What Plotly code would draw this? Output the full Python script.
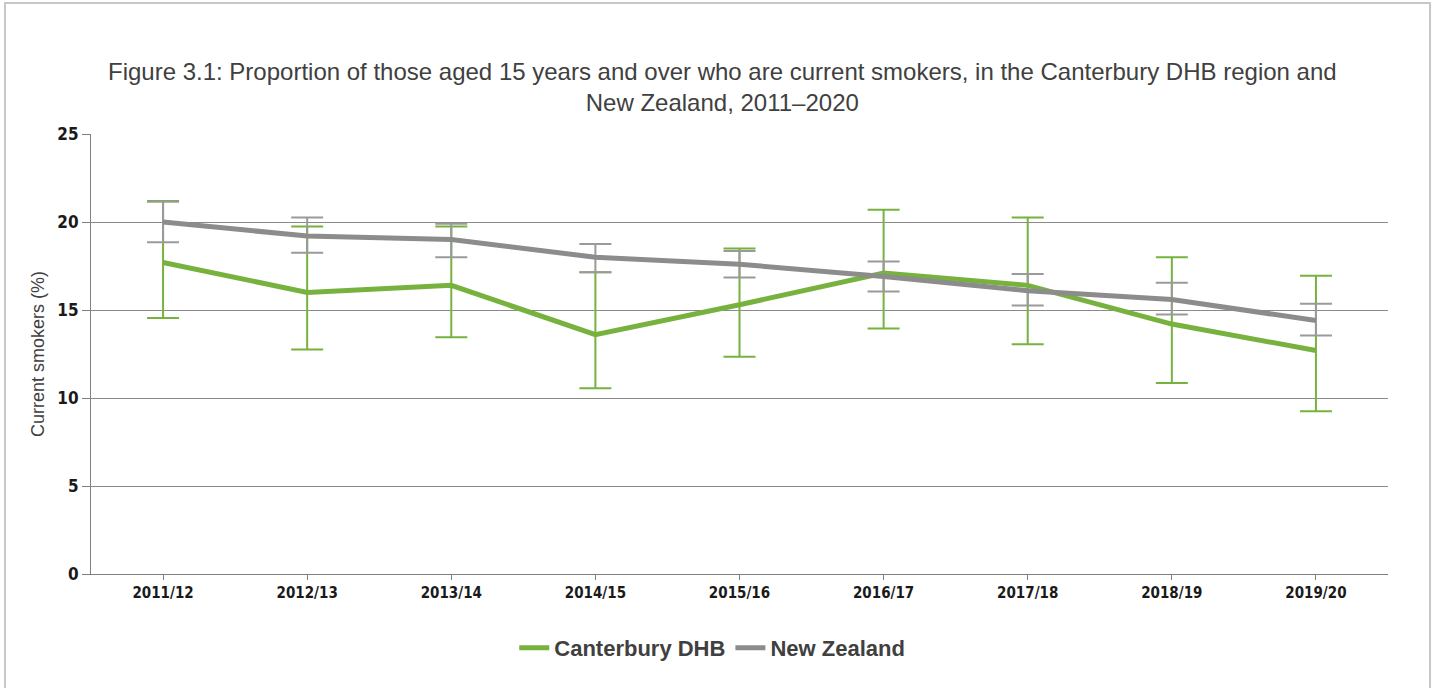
import plotly.graph_objects as go

years = ["2011/12", "2012/13", "2013/14", "2014/15", "2015/16", "2016/17", "2017/18", "2018/19", "2019/20"]

cant = [17.7, 16.0, 16.4, 13.6, 15.3, 17.1, 16.4, 14.2, 12.7]
cant_hi = [21.2, 19.75, 19.75, 17.15, 18.5, 20.7, 20.25, 18.0, 16.95]
cant_lo = [14.55, 12.75, 13.45, 10.55, 12.35, 13.95, 13.05, 10.85, 9.25]

nz = [20.0, 19.2, 19.0, 18.0, 17.6, 16.9, 16.1, 15.6, 14.4]
nz_hi = [21.15, 20.25, 19.9, 18.75, 18.35, 17.75, 17.05, 16.55, 15.35]
nz_lo = [18.85, 18.25, 18.0, 17.15, 16.85, 16.05, 15.25, 14.75, 13.55]

GREEN = "#77b23f"
GRAY = "#8c8c8c"
GRAY_ERR = "#9a9a9a"
TXT = "#404040"

def err(vals, hi, lo):
    plus = [h - v for h, v in zip(hi, vals)]
    minus = [v - l for v, l in zip(vals, lo)]
    return plus, minus

cp, cm = err(cant, cant_hi, cant_lo)
npl, nmi = err(nz, nz_hi, nz_lo)

fig = go.Figure()
fig.add_trace(go.Scatter(
    x=years, y=cant, mode="markers", marker=dict(size=1, opacity=0),
    error_y=dict(type="data", symmetric=False, array=cp, arrayminus=cm,
                 color=GREEN, thickness=2, width=16),
    showlegend=False, hoverinfo="skip"))
fig.add_trace(go.Scatter(
    x=years, y=nz, mode="markers", marker=dict(size=1, opacity=0),
    error_y=dict(type="data", symmetric=False, array=npl, arrayminus=nmi,
                 color=GRAY_ERR, thickness=2, width=16),
    showlegend=False, hoverinfo="skip"))
fig.add_trace(go.Scatter(
    x=years, y=cant, mode="lines", name="Canterbury DHB",
    line=dict(color=GREEN, width=5)))
fig.add_trace(go.Scatter(
    x=years, y=nz, mode="lines", name="New Zealand",
    line=dict(color=GRAY, width=5)))

tickfam = "DejaVu Sans Condensed, Liberation Sans Narrow, sans-serif"

fig.update_layout(
    width=1436, height=688,
    paper_bgcolor="white", plot_bgcolor="white",
    margin=dict(l=91, r=48, t=134, b=114),
    title=dict(
        text="Figure 3.1: Proportion of those aged 15 years and over who are current smokers, in the Canterbury DHB region and<br>New Zealand, 2011–2020",
        x=0.503, xanchor="center", y=0.884, yanchor="middle",
        font=dict(family="Liberation Sans, Arial, sans-serif", size=24, color=TXT)),
    xaxis=dict(
        type="category", range=[-0.5, 8.5],
        showline=True, linecolor="#808080", linewidth=1,
        ticks="outside", ticklen=5, tickcolor="#808080",
        showgrid=False, fixedrange=True,
        tickfont=dict(family=tickfam, size=15, color="#1a1a1a", weight="bold")),
    yaxis=dict(
        range=[0, 25], dtick=5,
        showline=True, linecolor="#808080", linewidth=1,
        ticks="outside", ticklen=8, tickcolor="#808080",
        showgrid=True, gridcolor="#8a8a8a", gridwidth=1,
        zeroline=False, fixedrange=True,
        tickfont=dict(family=tickfam, size=17, color="#1a1a1a", weight="bold"),
        title=dict(text="Current smokers (%)", standoff=8,
                   font=dict(family="Liberation Sans, Arial, sans-serif", size=18, color=TXT))),
    legend=dict(
        orientation="h", x=0.479, xanchor="center", y=-0.168, yanchor="middle",
        font=dict(family="Liberation Sans, Arial, sans-serif", size=22, color=TXT, weight="bold")),
    showlegend=True,
    shapes=[dict(type="rect", xref="paper", yref="paper",
                 x0=-0.0663, x1=1.0324, y0=-0.4, y1=1.2977,
                 line=dict(color="#c8c8c8", width=2), layer="below")],
)

fig.write_html("out.html", config={"displayModeBar": False},
               post_script="document.body.style.margin='0';document.body.style.overflow='hidden';")
